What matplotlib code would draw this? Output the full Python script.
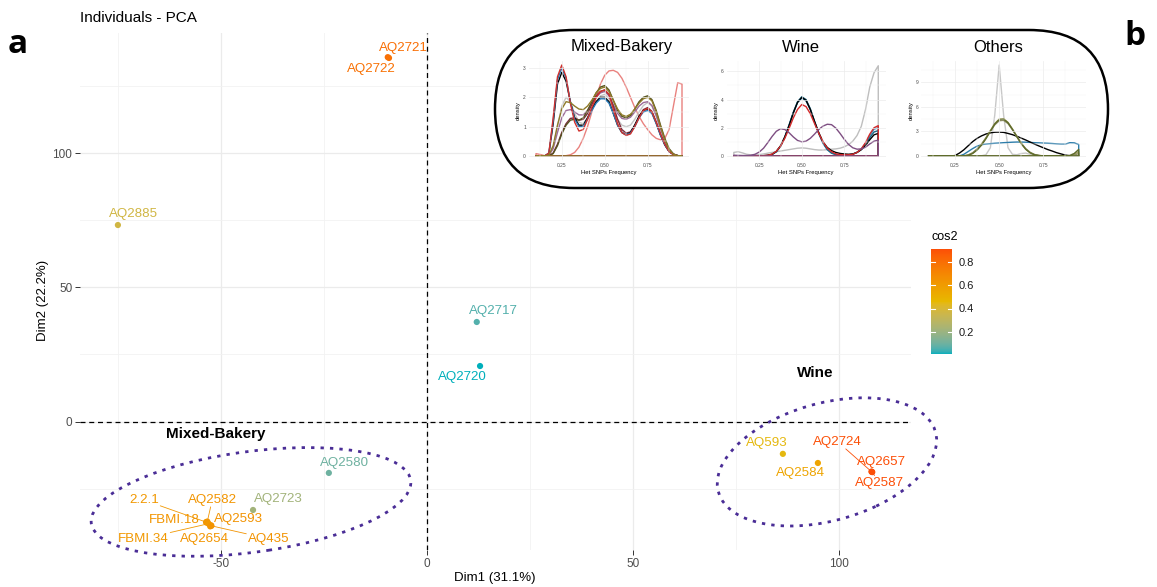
import matplotlib.pyplot as plt
import matplotlib.colors as mcolors
import numpy as np
from matplotlib.cm import ScalarMappable
from matplotlib.patches import Ellipse, FancyBboxPatch

plt.rcParams['font.family'] = ['Liberation Sans', 'DejaVu Sans']
plt.rcParams['axes.unicode_minus'] = False

W, H = 1157, 587

# individuals on Dim1 / Dim2 with their quality of representation
ind_names = ["AQ2721", "AQ2722", "AQ2885", "AQ2717", "AQ2720", "AQ2580", "AQ2723",
             "2.2.1", "AQ2582", "FBMI.18", "AQ2593", "FBMI.34", "AQ2654", "AQ435",
             "AQ593", "AQ2584", "AQ2724", "AQ2657", "AQ2587"]
dim1 = [-9.5, -9.2, -75.0, 12.1, 12.9, -23.8, -42.2,
        -53.6, -53.3, -53.5, -52.4, -53.0, -52.6, -52.3,
        86.4, 94.9, 107.9, 108.1, 108.0]
dim2 = [135.7, 135.4, 73.2, 37.1, 20.7, -19.1, -32.9,
        -37.4, -37.2, -37.6, -38.6, -38.0, -39.0, -38.8,
        -12.0, -15.4, -18.6, -18.8, -18.7]
cos2 = [0.80, 0.79, 0.37, 0.06, 0.01, 0.10, 0.22,
        0.62, 0.63, 0.63, 0.64, 0.62, 0.63, 0.64,
        0.45, 0.56, 0.90, 0.91, 0.91]

# groups: confidence ellipse (centre, width, height, angle) and label spot
group_names = ["Mixed-Bakery", "Wine"]
group_centre = [(-42.7, -29.9), (97.1, -15.0)]
group_width = [79.3, 58.8]
group_height = [37.0, 40.7]
group_angle = [13.5, 36.0]
group_label_xy = [(-51.2, -4.6), (94.2, 18.1)]

# label placement (pixel offsets from the point), ggrepel style
label_offset = {
    "AQ2721": (16, 9), "AQ2722": (-18, -11), "AQ2885": (16, 11), "AQ2717": (17, 11),
    "AQ2720": (-18, -11), "AQ2580": (16, 10), "AQ2723": (25, 11), "2.2.1": (-62, 22),
    "AQ2582": (5, 22), "FBMI.18": (-32, 3), "AQ2593": (28, 6), "FBMI.34": (-65, -15),
    "AQ2654": (-6, -13), "AQ435": (57, -13), "AQ593": (-16, 11), "AQ2584": (-17, -10),
    "AQ2724": (-34, 30), "AQ2657": (9, 10), "AQ2587": (8, -11),
}
with_segment = {"2.2.1", "AQ2582", "FBMI.34", "AQ435", "AQ2724", "AQ2587"}

# het SNP frequency densities
freq = [0.1, 0.125, 0.15, 0.175, 0.2, 0.225, 0.25, 0.275, 0.3, 0.325, 0.35, 0.375,
        0.4, 0.425, 0.45, 0.475, 0.5, 0.525, 0.55, 0.575, 0.6, 0.625, 0.65, 0.675,
        0.7, 0.725, 0.75, 0.775, 0.8, 0.825, 0.85, 0.875, 0.9, 0.925, 0.95]

mixed_bakery = [
    ("#E9827F", [0.08, 0.05, 0.01, 0, 0, 0, 0, 0.01, 0.04, 0.12, 0.3, 0.6, 1.0, 1.5, 2.0, 2.45, 2.75, 2.9,
                 2.92, 2.85, 2.65, 2.35, 2.0, 1.65, 1.35, 1.1, 0.9, 0.72, 0.6, 0.55, 0.6, 0.9, 1.7, 2.5, 2.45]),
    ("#C4C4C4", [0, 0, 0, 0.02, 0.3, 1.0, 1.7, 2.0, 1.85, 1.45, 1.15, 1.1, 1.3, 1.6, 1.85, 2.05, 2.1, 1.95,
                 1.6, 1.25, 1.05, 1.0, 1.05, 1.25, 1.5, 1.72, 1.82, 1.7, 1.35, 0.9, 0.5, 0.2, 0.06, 0.01, 0]),
    ("#9C6B98", [0, 0, 0, 0.02, 0.25, 0.8, 1.3, 1.55, 1.58, 1.5, 1.4, 1.4, 1.55, 1.8, 2.0, 2.15, 2.2, 2.05,
                 1.75, 1.45, 1.28, 1.25, 1.32, 1.5, 1.7, 1.82, 1.85, 1.72, 1.38, 0.92, 0.5, 0.2, 0.06, 0.01, 0]),
    ("#7B2C3B", [0, 0, 0, 0, 0.1, 0.4, 0.8, 1.1, 1.28, 1.3, 1.22, 1.25, 1.45, 1.75, 2.05, 2.2, 2.25, 2.1,
                 1.7, 1.25, 0.9, 0.78, 0.82, 1.05, 1.35, 1.58, 1.65, 1.52, 1.15, 0.72, 0.38, 0.15, 0.05, 0.01, 0]),
    ("#55531F", [0, 0, 0, 0, 0.08, 0.35, 0.75, 1.05, 1.22, 1.25, 1.22, 1.3, 1.55, 1.85, 2.15, 2.35, 2.4, 2.25,
                 1.9, 1.55, 1.35, 1.3, 1.38, 1.6, 1.85, 2.0, 2.05, 1.92, 1.55, 1.05, 0.6, 0.25, 0.07, 0.01, 0]),
    ("black", [0, 0, 0, 0.08, 1.1, 2.45, 2.85, 2.55, 1.85, 1.3, 1.05, 1.05, 1.3, 1.6, 1.85, 2.0, 2.0, 1.85,
               1.45, 1.05, 0.8, 0.72, 0.8, 1.05, 1.35, 1.55, 1.6, 1.48, 1.12, 0.72, 0.38, 0.15, 0.05, 0.01, 0]),
    ("#2878B5", [0, 0, 0, 0.1, 1.2, 2.6, 3.0, 2.65, 1.85, 1.25, 1.0, 1.0, 1.25, 1.55, 1.8, 1.95, 1.95, 1.8,
                 1.45, 1.05, 0.8, 0.72, 0.78, 1.0, 1.3, 1.5, 1.55, 1.45, 1.1, 0.7, 0.38, 0.15, 0.05, 0.01, 0]),
    ("#D0312D", [0, 0, 0, 0.1, 1.3, 2.7, 3.1, 2.7, 1.8, 1.15, 0.85, 0.9, 1.25, 1.65, 2.0, 2.2, 2.25, 2.1,
                 1.6, 1.1, 0.8, 0.7, 0.75, 1.0, 1.3, 1.55, 1.62, 1.5, 1.15, 0.75, 0.4, 0.15, 0.05, 0.01, 0]),
    ("#8F7A28", [0, 0, 0, 0.03, 0.35, 1.05, 1.6, 1.85, 1.82, 1.7, 1.6, 1.58, 1.7, 1.9, 2.15, 2.3, 2.35, 2.2,
                 1.9, 1.6, 1.4, 1.35, 1.42, 1.6, 1.8, 1.95, 2.0, 1.88, 1.5, 1.0, 0.55, 0.22, 0.06, 0.01, 0]),
]

wine = [
    ("#BEBEBE", [0.25, 0.3, 0.22, 0.12, 0.08, 0.08, 0.1, 0.14, 0.2, 0.25, 0.3, 0.35, 0.4, 0.45, 0.5, 0.55, 0.57,
                 0.55, 0.5, 0.45, 0.42, 0.42, 0.45, 0.48, 0.5, 0.55, 0.65, 0.8, 1.05, 1.45, 2.1, 3.3, 4.9, 5.9, 6.4]),
    ("#3A8FC0", [0, 0, 0, 0, 0, 0, 0, 0, 0.03, 0.1, 0.3, 0.68, 1.3, 2.15, 3.05, 3.8, 4.1, 3.9, 3.3, 2.4, 1.58,
                 0.9, 0.45, 0.2, 0.1, 0.07, 0.06, 0.08, 0.13, 0.27, 0.5, 0.9, 1.45, 1.9, 2.0]),
    ("#1B6A87", [0, 0, 0, 0, 0, 0, 0, 0, 0.03, 0.1, 0.3, 0.7, 1.35, 2.2, 3.1, 3.85, 4.2, 4.0, 3.35, 2.45, 1.6,
                 0.9, 0.45, 0.2, 0.1, 0.07, 0.06, 0.08, 0.12, 0.25, 0.45, 0.8, 1.3, 1.7, 1.8]),
    ("black", [0, 0, 0, 0, 0, 0, 0, 0.02, 0.05, 0.12, 0.32, 0.72, 1.35, 2.15, 3.05, 3.8, 4.15, 3.95, 3.3, 2.45,
               1.65, 1.0, 0.6, 0.38, 0.25, 0.18, 0.14, 0.12, 0.14, 0.25, 0.45, 0.75, 1.15, 1.5, 1.6]),
    ("#D42A2A", [0, 0, 0, 0, 0, 0, 0, 0.02, 0.05, 0.13, 0.33, 0.7, 1.25, 1.95, 2.7, 3.3, 3.65, 3.5, 3.0, 2.3,
                 1.6, 1.0, 0.55, 0.3, 0.15, 0.1, 0.08, 0.08, 0.12, 0.25, 0.5, 0.95, 1.55, 2.0, 2.15]),
    ("#7E4E82", [0.05, 0.04, 0.03, 0.03, 0.05, 0.12, 0.28, 0.55, 0.95, 1.38, 1.75, 1.93, 1.88, 1.65, 1.35, 1.1,
                 1.0, 1.05, 1.25, 1.55, 1.88, 2.12, 2.25, 2.22, 1.98, 1.6, 1.18, 0.82, 0.58, 0.48, 0.5, 0.62,
                 0.85, 1.05, 1.12]),
]

others = [
    ("#C8C8C8", [0, 0, 0, 0, 0, 0, 0, 0, 0, 0, 0, 0, 0.02, 0.15, 1.0, 5.0, 11.1, 5.0, 1.0, 0.2, 0.15, 0.3,
                 0.35, 0.2, 0.05, 0.02, 0.02, 0.02, 0.03, 0.05, 0.05, 0.05, 0.1, 0.3, 0.6]),
    ("#2D7DAA", [0, 0, 0, 0, 0, 0, 0, 0, 0.2, 0.55, 0.9, 1.2, 1.38, 1.45, 1.5, 1.55, 1.58, 1.62, 1.65, 1.68,
                 1.7, 1.7, 1.68, 1.65, 1.62, 1.6, 1.57, 1.55, 1.52, 1.48, 1.45, 1.45, 1.62, 1.6, 1.4]),
    ("black", [0, 0, 0, 0, 0, 0, 0.05, 0.35, 0.75, 1.25, 1.75, 2.15, 2.45, 2.68, 2.82, 2.9, 2.92, 2.88, 2.75,
               2.6, 2.4, 2.18, 1.95, 1.7, 1.45, 1.22, 1.0, 0.78, 0.6, 0.4, 0.25, 0.1, 0.02, 0, 0]),
    ("#A6A05E", [0, 0, 0, 0, 0, 0, 0, 0, 0, 0.1, 0.35, 0.8, 1.4, 2.2, 3.1, 3.95, 4.5, 4.55, 4.1, 3.3, 2.4,
                 1.55, 0.85, 0.4, 0.15, 0.05, 0.01, 0, 0, 0, 0, 0, 0, 0.2, 0.5]),
    ("#8C8C64", [0, 0, 0, 0, 0, 0, 0, 0, 0.02, 0.12, 0.4, 0.85, 1.45, 2.2, 3.05, 3.8, 4.3, 4.35, 3.95, 3.2,
                 2.35, 1.55, 0.9, 0.45, 0.18, 0.06, 0.02, 0, 0, 0, 0, 0, 0, 0.1, 0.3]),
    ("#5E6B2A", [0, 0, 0, 0, 0, 0, 0, 0, 0, 0.08, 0.3, 0.72, 1.32, 2.1, 3.0, 3.9, 4.45, 4.5, 4.05, 3.25,
                 2.35, 1.5, 0.82, 0.38, 0.14, 0.05, 0.01, 0, 0, 0, 0, 0, 0.05, 0.3, 0.8]),
]

# ---- gradient teal -> yellow -> red, interpolated in CIELAB like ggplot
_M = np.array([[0.4124, 0.3576, 0.1805], [0.2126, 0.7152, 0.0722], [0.0193, 0.1192, 0.9505]])
_WHITE = np.array([0.95047, 1.0, 1.08883])


def to_lab(col):
    rgb = np.array(mcolors.to_rgb(col))
    lin = np.where(rgb <= 0.04045, rgb / 12.92, ((rgb + 0.055) / 1.055) ** 2.4)
    xyz = _M @ lin / _WHITE
    f = np.where(xyz > 0.008856, np.cbrt(xyz), 7.787 * xyz + 16 / 116)
    return np.array([116 * f[1] - 16, 500 * (f[0] - f[1]), 200 * (f[1] - f[2])])


def from_lab(lab):
    fy = (lab[0] + 16) / 116
    f = np.array([fy + lab[1] / 500, fy, fy - lab[2] / 200])
    xyz = np.where(f ** 3 > 0.008856, f ** 3, (f - 16 / 116) / 7.787) * _WHITE
    lin = np.clip(np.linalg.solve(_M, xyz), 0, None)
    rgb = np.where(lin <= 0.0031308, 12.92 * lin, 1.055 * lin ** (1 / 2.4) - 0.055)
    return np.clip(rgb, 0, 1)


anchors = [to_lab(c) for c in ["#00AFBB", "#E7B800", "#FC4E07"]]
ramp = []
for t in np.linspace(0, 1, 256):
    seg = min(int(t * 2), 1)
    u = t * 2 - seg
    ramp.append(from_lab(anchors[seg] * (1 - u) + anchors[seg + 1] * u))
cmap = mcolors.ListedColormap(ramp)
norm = mcolors.Normalize(min(cos2), max(cos2))


def px_axes(left, top, right, bottom, **kw):
    return fig.add_axes([left / W, 1 - bottom / H, (right - left) / W, (bottom - top) / H], **kw)


fig = plt.figure(figsize=(W / 100, H / 100), dpi=100)

# ---- main PCA panel
ax = px_axes(80, 33, 911, 550)
ax.set_xlim(-84.2, 117.5)
ax.set_ylim(-47.8, 144.7)
for s in ax.spines.values():
    s.set_visible(False)
ax.set_xticks([-50, 0, 50, 100])
ax.set_yticks([0, 50, 100])
ax.set_xticks([-75, -25, 25, 75], minor=True)
ax.set_yticks([-25, 25, 75, 125], minor=True)
ax.grid(which='major', color='#EBEBEB', lw=0.9)
ax.grid(which='minor', color='#F2F2F2', lw=0.6)
ax.set_axisbelow(True)
ax.tick_params(which='major', length=3.5, width=0.7, color='#333333', labelcolor='#4D4D4D',
               labelsize=8.5, pad=2)
ax.tick_params(which='minor', length=0)

ax.axhline(0, color='black', lw=0.9, ls=(0, (4, 3)), zorder=1)
ax.axvline(0, color='black', lw=0.9, ls=(0, (4, 3)), zorder=1)

for i, name in enumerate(group_names):
    ax.add_patch(Ellipse(group_centre[i], group_width[i], group_height[i], angle=group_angle[i],
                         fill=False, ec='#4A2D96', lw=2.0, ls=(0, (1.2, 2.2)), zorder=2,
                         clip_on=False))
    ax.text(*group_label_xy[i], name, fontsize=11, fontweight='bold', ha='center', va='center')

ax.scatter(dim1, dim2, c=cos2, cmap=cmap, norm=norm, s=20, linewidths=0, zorder=4)

for i, name in enumerate(ind_names):
    col = cmap(norm(cos2[i]))
    kw = {}
    if name in with_segment:
        kw['arrowprops'] = dict(arrowstyle='-', color=col, lw=0.6, shrinkA=0, shrinkB=2)
        kw['bbox'] = dict(boxstyle='square,pad=0.1', fc='none', ec='none')
    ax.annotate(name, (dim1[i], dim2[i]), xytext=label_offset[name], textcoords='offset pixels',
                ha='center', va='center', fontsize=9.6, color=col, zorder=5, **kw)

fig.text(80 / W, 1 - 18 / H, "Individuals - PCA", fontsize=11, va='center')
fig.text(495 / W, 1 - 578 / H, "Dim1 (31.1%)", fontsize=9.5, ha='center', va='center')
fig.text(43 / W, 1 - 300 / H, "Dim2 (22.2%)", fontsize=9.5, ha='center', va='center', rotation=90)

# ---- cos2 colour bar
cax = px_axes(931, 249, 952, 354)
cb = fig.colorbar(ScalarMappable(norm=norm, cmap=cmap), cax=cax)
cb.outline.set_visible(False)
cb.set_ticks([0.2, 0.4, 0.6, 0.8])
cb.set_ticklabels(["0.2", "0.4", "0.6", "0.8"])
cax.tick_params(length=0, labelsize=8, labelcolor='#1A1A1A', pad=5)
for t in [0.2, 0.4, 0.6, 0.8]:
    cax.axhline(t, 0, 0.2, color='white', lw=0.8)
    cax.axhline(t, 0.8, 1, color='white', lw=0.8)
fig.text(932 / W, 1 - 237 / H, "cos2", fontsize=9, va='center')

# ---- density insets inside a rounded frame
frame = px_axes(0, 0, W, H)
frame.set_xlim(0, W)
frame.set_ylim(H, 0)
frame.axis('off')
frame.add_patch(FancyBboxPatch((495, 30), 613, 158, boxstyle="round,pad=0,rounding_size=79",
                               fc='white', ec='black', lw=1.8))

insets = [
    ("Mixed-Bakery", mixed_bakery, (528.7, 689.3), 3.1, [0, 1, 2, 3], [0.5, 1.5, 2.5], 622),
    ("Wine", wine, (726.6, 885.5), 6.45, [0, 2, 4, 6], [1, 3, 5], 801),
    ("Others", others, (921.0, 1086.2), 11.1, [0, 3, 6, 9], [1.5, 4.5, 7.5, 10.5], 998),
]
for title, curves, (x0, x1), ymax, yticks, yminor, tx in insets:
    iax = px_axes(x0, 60.5, x1, 160.5)
    iax.set_facecolor('none')
    iax.set_xlim(0.0575, 0.9925)
    iax.set_ylim(-0.05 * ymax, 1.05 * ymax)
    for s in iax.spines.values():
        s.set_visible(False)
    iax.set_xticks([0.25, 0.5, 0.75])
    iax.set_xticklabels(["0.25", "0.50", "0.75"])
    iax.set_xticks([0.125, 0.375, 0.625, 0.875], minor=True)
    iax.set_yticks(yticks)
    iax.set_yticks(yminor, minor=True)
    iax.grid(which='major', color='#EBEBEB', lw=0.5)
    iax.grid(which='minor', color='#F3F3F3', lw=0.35)
    iax.tick_params(which='both', length=0, labelsize=3.5, labelcolor='#4D4D4D', pad=2)
    for col, dens in curves:
        iax.fill_between(freq, dens, 0, facecolor='none', edgecolor=col, lw=1.0)
    iax.set_xlabel("Het SNPs Frequency", fontsize=4.2, labelpad=1.5)
    iax.set_ylabel("density", fontsize=4.2, labelpad=1.5)
    fig.text(tx / W, 1 - 47 / H, title, fontsize=12, ha='center', va='center')

# panel letters
fig.text(8 / W, 1 - 53 / H, "a", fontsize=24, fontweight='bold', family='Open Sans', va='baseline')
fig.text(1124 / W, 1 - 45 / H, "b", fontsize=24, fontweight='bold', family='Open Sans', va='baseline')

fig.savefig("out.png", dpi=100)
